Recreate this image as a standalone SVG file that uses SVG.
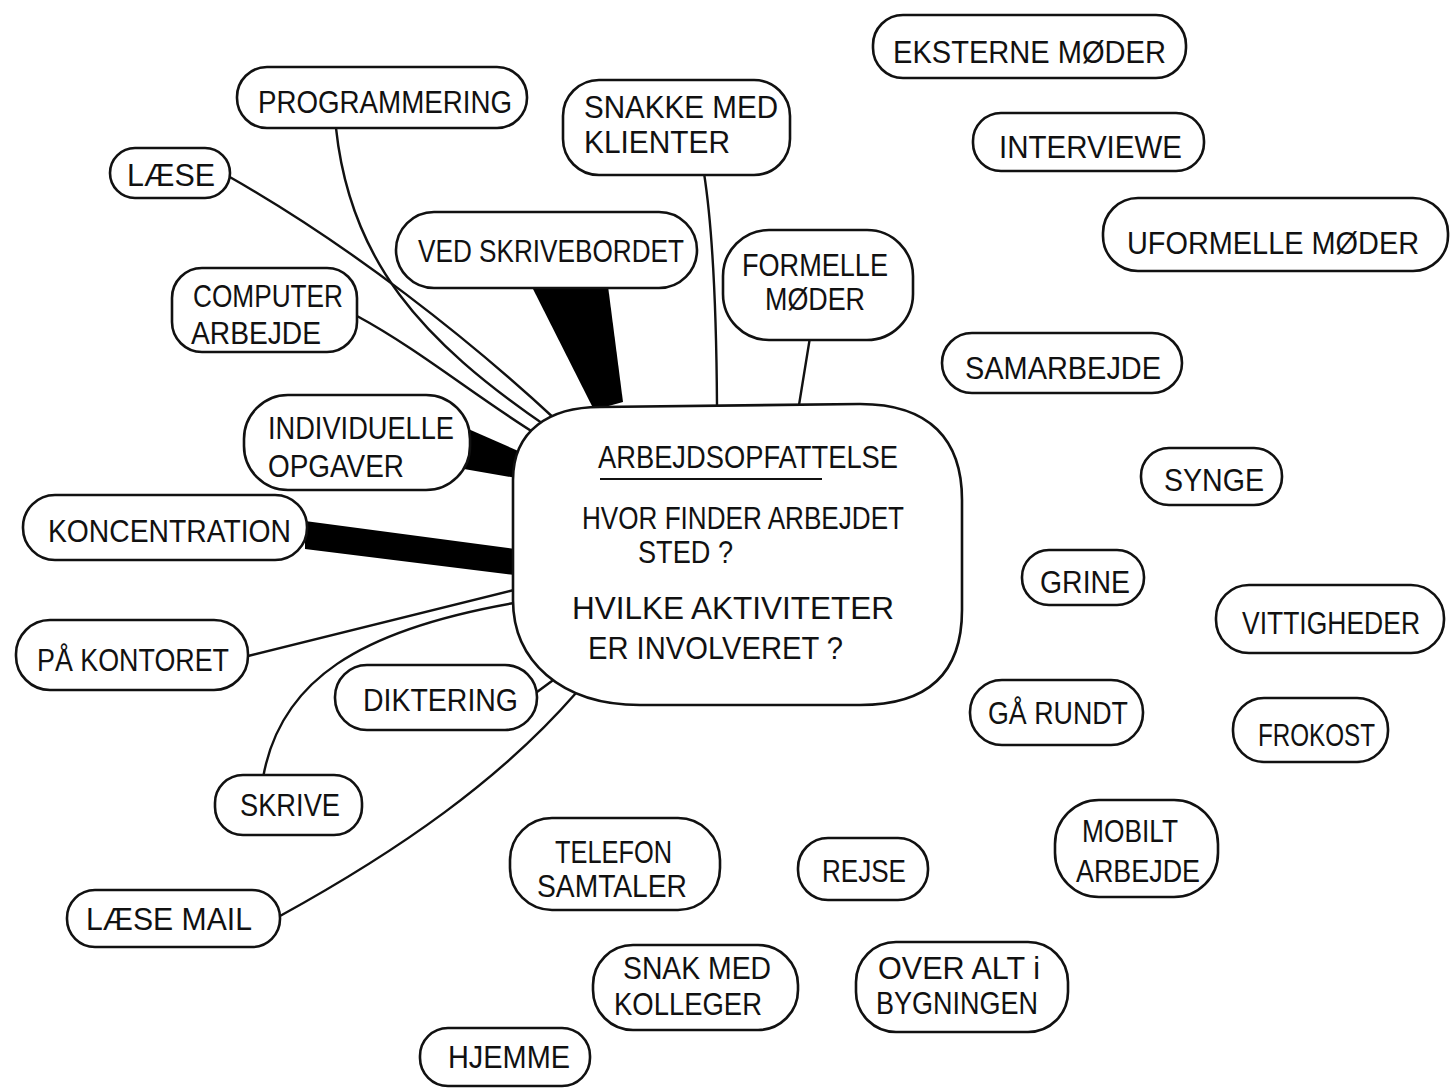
<svg xmlns="http://www.w3.org/2000/svg" width="1455" height="1088" viewBox="0 0 1455 1088">
<style>
.n{fill:#fff;stroke:#111;stroke-width:2.6}
.c{fill:none;stroke:#111;stroke-width:2.4;stroke-linecap:round}
.w{fill:#000;stroke:none}
text{font-family:"Liberation Sans","DejaVu Sans",sans-serif;font-size:32px;fill:#111}
</style>
<rect width="1455" height="1088" fill="#fff"/>
<g id="connectors">
<path class="c" d="M228,176 C350,245 470,340 556,420"/>
<path class="c" d="M336,128 C350,260 420,340 549,428"/>
<path class="c" d="M357,316 C420,350 480,400 541,437"/>
<polygon class="w" points="532,287 608,286 623,402 594,410"/>
<path class="c" d="M704,173 Q716,250 717,405"/>
<path class="c" d="M812,325 L799,405"/>
<polygon class="w" points="466,428 532,457 522,479 464,469"/>
<polygon class="w" points="305,521 515,549 515,575 305,549"/>
<path class="c" d="M248,656 L514,590"/>
<path class="c" d="M263,778 C280,680 360,630 514,603"/>
<path class="c" d="M537,692 L556,678"/>
<path class="c" d="M280,916 C400,850 500,780 576,693"/>
</g>
<g id="center">
<path class="n" d="M600,407 L860,404 C930,404 962,440 962,500 L962,610 C962,680 920,705 860,705 L640,705 C560,705 513,660 513,600 L513,480 C513,430 550,407 600,407 Z"/>
<text x="598" y="468" textLength="300" lengthAdjust="spacingAndGlyphs">ARBEJDSOPFATTELSE</text>
<line x1="600" y1="479" x2="822" y2="479" stroke="#111" stroke-width="2"/>
<text x="582" y="529" textLength="322" lengthAdjust="spacingAndGlyphs">HVOR FINDER ARBEJDET</text>
<text x="638" y="563" textLength="95" lengthAdjust="spacingAndGlyphs">STED ?</text>
<text x="572" y="619" textLength="322" lengthAdjust="spacingAndGlyphs">HVILKE AKTIVITETER</text>
<text x="588" y="659" textLength="255" lengthAdjust="spacingAndGlyphs">ER INVOLVERET ?</text>
</g>
<g id="programmering"><rect class="n" x="237" y="67" width="290" height="61" rx="30"/><text x="258" y="113" textLength="254" lengthAdjust="spacingAndGlyphs">PROGRAMMERING</text></g>
<g id="laese"><rect class="n" x="110" y="148" width="120" height="50" rx="25"/><text x="127" y="186" textLength="88" lengthAdjust="spacingAndGlyphs">LÆSE</text></g>
<g id="snakke-med-klienter"><rect class="n" x="563" y="80" width="227" height="95" rx="36"/><text x="584" y="118" textLength="194" lengthAdjust="spacingAndGlyphs">SNAKKE MED</text><text x="584" y="153" textLength="146" lengthAdjust="spacingAndGlyphs">KLIENTER</text></g>
<g id="ved-skrivebordet"><rect class="n" x="396" y="212" width="301" height="76" rx="38"/><text x="418" y="262" textLength="266" lengthAdjust="spacingAndGlyphs">VED SKRIVEBORDET</text></g>
<g id="formelle-moeder"><rect class="n" x="723" y="230" width="190" height="110" rx="46"/><text x="742" y="276" textLength="146" lengthAdjust="spacingAndGlyphs">FORMELLE</text><text x="765" y="310" textLength="100" lengthAdjust="spacingAndGlyphs">MØDER</text></g>
<g id="computer-arbejde"><rect class="n" x="172" y="268" width="185" height="84" rx="30"/><text x="193" y="307" textLength="150" lengthAdjust="spacingAndGlyphs">COMPUTER</text><text x="191" y="344" textLength="130" lengthAdjust="spacingAndGlyphs">ARBEJDE</text></g>
<g id="individuelle-opgaver"><rect class="n" x="244" y="395" width="226" height="95" rx="44"/><text x="268" y="439" textLength="186" lengthAdjust="spacingAndGlyphs">INDIVIDUELLE</text><text x="268" y="477" textLength="136" lengthAdjust="spacingAndGlyphs">OPGAVER</text></g>
<g id="koncentration"><rect class="n" x="23" y="495" width="284" height="65" rx="32"/><text x="48" y="542" textLength="243" lengthAdjust="spacingAndGlyphs">KONCENTRATION</text></g>
<g id="paa-kontoret"><rect class="n" x="16" y="620" width="232" height="70" rx="34"/><text x="37" y="671" textLength="192" lengthAdjust="spacingAndGlyphs">PÅ KONTORET</text></g>
<g id="diktering"><rect class="n" x="335" y="665" width="202" height="65" rx="32"/><text x="363" y="711" textLength="155" lengthAdjust="spacingAndGlyphs">DIKTERING</text></g>
<g id="skrive"><rect class="n" x="215" y="775" width="147" height="60" rx="28"/><text x="240" y="816" textLength="100" lengthAdjust="spacingAndGlyphs">SKRIVE</text></g>
<g id="laese-mail"><rect class="n" x="67" y="890" width="213" height="57" rx="28"/><text x="86" y="930" textLength="166" lengthAdjust="spacingAndGlyphs">LÆSE MAIL</text></g>
<g id="telefon-samtaler"><rect class="n" x="510" y="818" width="210" height="92" rx="42"/><text x="555" y="863" textLength="117" lengthAdjust="spacingAndGlyphs">TELEFON</text><text x="537" y="897" textLength="150" lengthAdjust="spacingAndGlyphs">SAMTALER</text></g>
<g id="rejse"><rect class="n" x="798" y="838" width="130" height="62" rx="30"/><text x="822" y="882" textLength="84" lengthAdjust="spacingAndGlyphs">REJSE</text></g>
<g id="mobilt-arbejde"><rect class="n" x="1055" y="800" width="163" height="97" rx="44"/><text x="1082" y="842" textLength="96" lengthAdjust="spacingAndGlyphs">MOBILT</text><text x="1076" y="882" textLength="124" lengthAdjust="spacingAndGlyphs">ARBEJDE</text></g>
<g id="snak-med-kolleger"><rect class="n" x="593" y="945" width="205" height="85" rx="40"/><text x="623" y="979" textLength="148" lengthAdjust="spacingAndGlyphs">SNAK MED</text><text x="614" y="1015" textLength="148" lengthAdjust="spacingAndGlyphs">KOLLEGER</text></g>
<g id="over-alt-i-bygningen"><rect class="n" x="856" y="942" width="212" height="90" rx="40"/><text x="878" y="979" textLength="162" lengthAdjust="spacingAndGlyphs">OVER ALT i</text><text x="876" y="1014" textLength="162" lengthAdjust="spacingAndGlyphs">BYGNINGEN</text></g>
<g id="hjemme"><rect class="n" x="420" y="1028" width="170" height="58" rx="28"/><text x="448" y="1068" textLength="122" lengthAdjust="spacingAndGlyphs">HJEMME</text></g>
<g id="eksterne-moeder"><rect class="n" x="873" y="15" width="313" height="63" rx="30"/><text x="893" y="63" textLength="273" lengthAdjust="spacingAndGlyphs">EKSTERNE MØDER</text></g>
<g id="interviewe"><rect class="n" x="973" y="113" width="231" height="58" rx="28"/><text x="999" y="158" textLength="183" lengthAdjust="spacingAndGlyphs">INTERVIEWE</text></g>
<g id="uformelle-moeder"><rect class="n" x="1103" y="198" width="345" height="73" rx="35"/><text x="1127" y="254" textLength="292" lengthAdjust="spacingAndGlyphs">UFORMELLE MØDER</text></g>
<g id="samarbejde"><rect class="n" x="942" y="333" width="240" height="60" rx="30"/><text x="965" y="379" textLength="196" lengthAdjust="spacingAndGlyphs">SAMARBEJDE</text></g>
<g id="synge"><rect class="n" x="1141" y="448" width="141" height="57" rx="28"/><text x="1164" y="491" textLength="100" lengthAdjust="spacingAndGlyphs">SYNGE</text></g>
<g id="grine"><rect class="n" x="1022" y="550" width="122" height="55" rx="27"/><text x="1040" y="593" textLength="90" lengthAdjust="spacingAndGlyphs">GRINE</text></g>
<g id="vittigheder"><rect class="n" x="1216" y="585" width="228" height="68" rx="33"/><text x="1242" y="634" textLength="178" lengthAdjust="spacingAndGlyphs">VITTIGHEDER</text></g>
<g id="gaa-rundt"><rect class="n" x="970" y="680" width="173" height="65" rx="32"/><text x="988" y="724" textLength="140" lengthAdjust="spacingAndGlyphs">GÅ RUNDT</text></g>
<g id="frokost"><rect class="n" x="1233" y="698" width="155" height="64" rx="31"/><text x="1258" y="746" textLength="117" lengthAdjust="spacingAndGlyphs">FROKOST</text></g>
</svg>
